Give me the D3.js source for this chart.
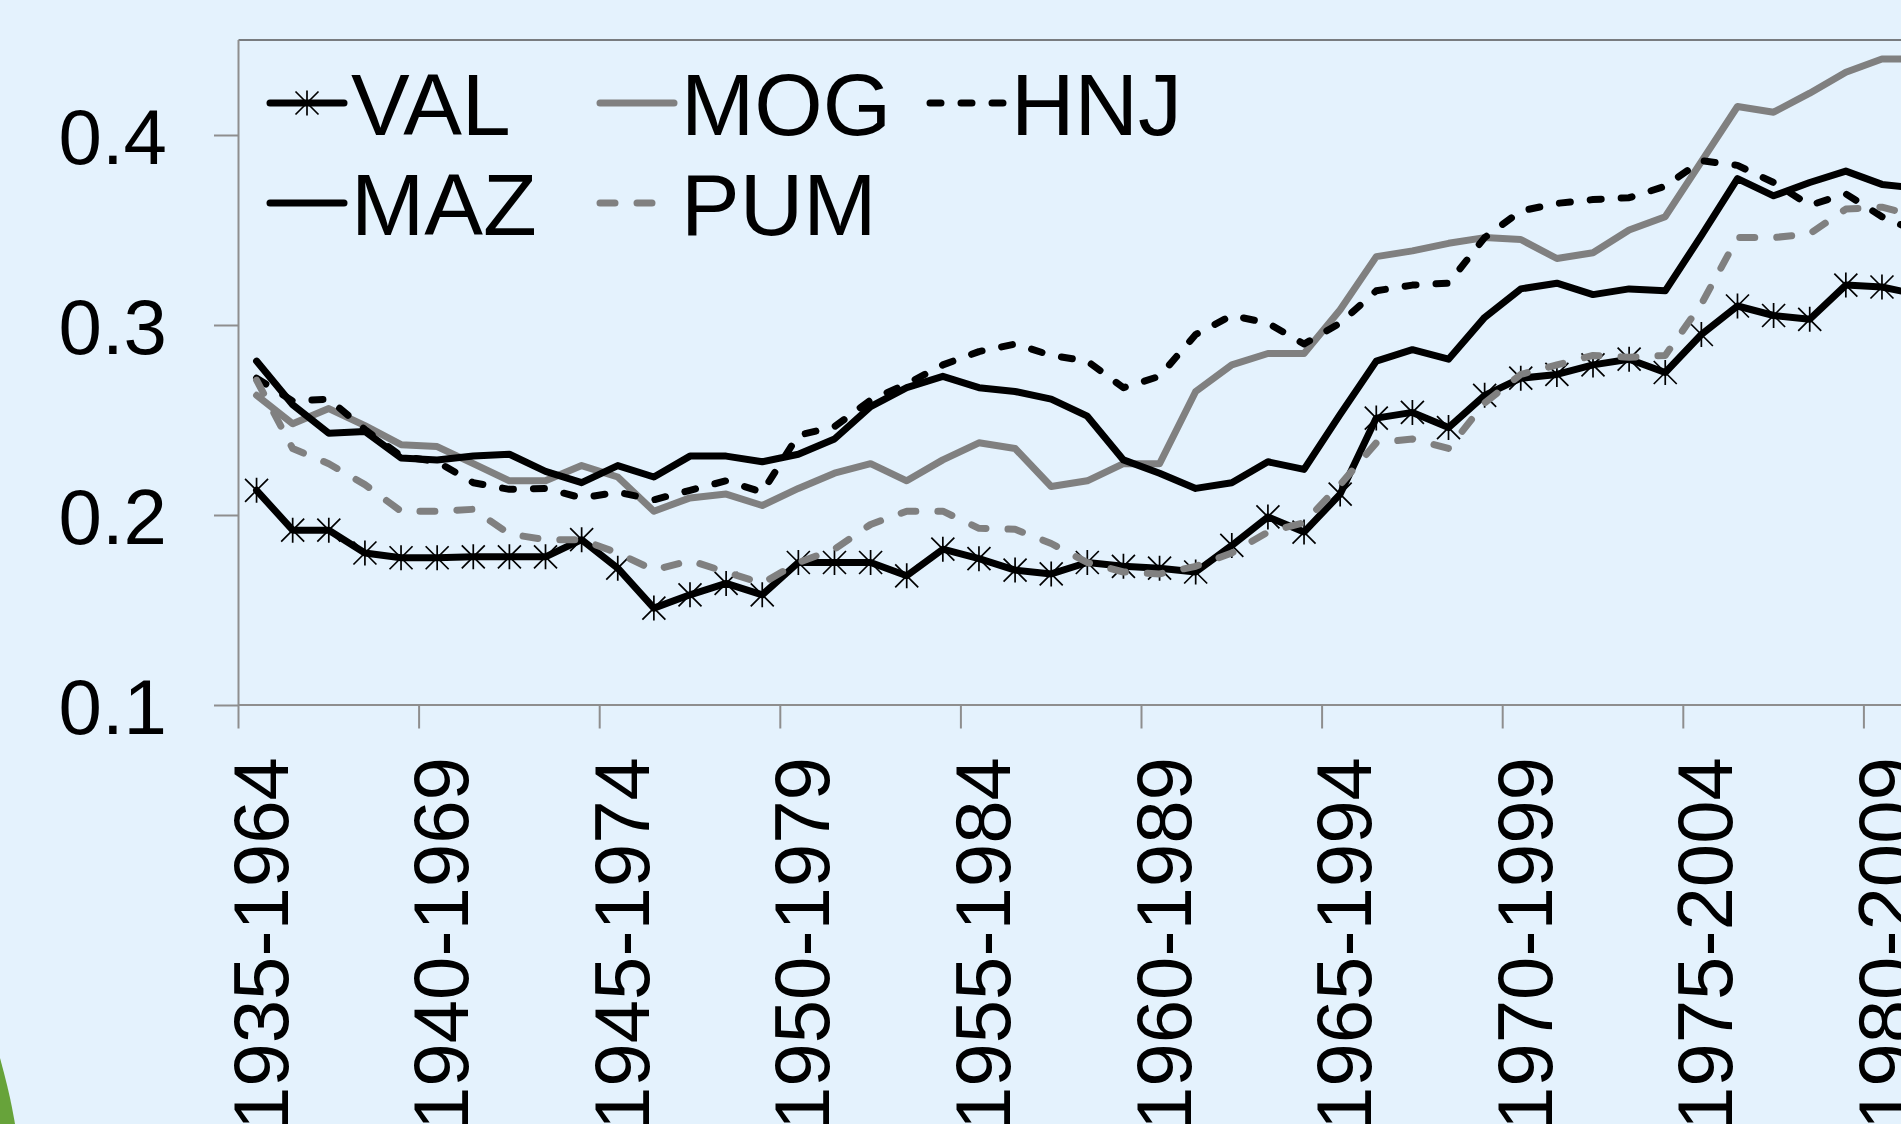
<!DOCTYPE html>
<html><head><meta charset="utf-8">
<script src="https://cdn.jsdelivr.net/npm/d3@7"></script>
<style>
html,body{margin:0;padding:0;background:#E4F2FD;overflow:hidden}
svg{display:block}
text{font-family:"Liberation Sans",Arial,Helvetica,sans-serif;fill:#000}
</style></head><body>
<svg id="chart" width="1901" height="1124"></svg>
<script>
const categories = ["1935-1964","1936-1965","1937-1966","1938-1967","1939-1968","1940-1969","1941-1970","1942-1971","1943-1972","1944-1973",
"1945-1974","1946-1975","1947-1976","1948-1977","1949-1978","1950-1979","1951-1980","1952-1981","1953-1982","1954-1983",
"1955-1984","1956-1985","1957-1986","1958-1987","1959-1988","1960-1989","1961-1990","1962-1991","1963-1992","1964-1993",
"1965-1994","1966-1995","1967-1996","1968-1997","1969-1998","1970-1999","1971-2000","1972-2001","1973-2002","1974-2003",
"1975-2004","1976-2005","1977-2006","1978-2007","1979-2008","1980-2009","1981-2010"];

const VAL = [0.213,0.192,0.192,0.180,0.1775,0.1775,0.178,0.178,0.178,0.187,
0.172,0.151,0.158,0.164,0.158,0.175,0.175,0.175,0.168,0.182,
0.177,0.171,0.169,0.175,0.173,0.172,0.170,0.184,0.199,0.191,
0.211,0.251,0.254,0.246,0.263,0.272,0.274,0.279,0.282,0.275,
0.295,0.310,0.305,0.303,0.321,0.320,0.316];

const MOG = [0.263,0.248,0.256,0.247,0.237,0.236,0.227,0.218,0.218,0.226,
0.220,0.202,0.209,0.211,0.205,0.214,0.222,0.227,0.218,0.229,
0.238,0.235,0.215,0.218,0.227,0.227,0.265,0.279,0.285,0.285,
0.308,0.336,0.339,0.343,0.346,0.345,0.335,0.338,0.350,0.357,
0.386,0.415,0.412,0.422,0.433,0.440,0.440];

const HNJ = [0.272,0.260,0.261,0.245,0.231,0.228,0.217,0.2135,0.214,0.209,
0.212,0.208,0.213,0.218,0.212,0.242,0.2465,0.2605,0.269,0.279,
0.286,0.290,0.284,0.281,0.267,0.273,0.295,0.305,0.301,0.290,
0.301,0.318,0.321,0.322,0.346,0.360,0.364,0.366,0.367,0.373,
0.3865,0.384,0.375,0.363,0.369,0.357,0.349];

const MAZ = [0.281,0.258,0.243,0.244,0.230,0.229,0.231,0.232,0.223,0.217,
0.226,0.220,0.231,0.231,0.228,0.232,0.240,0.257,0.267,0.273,
0.267,0.265,0.261,0.252,0.229,0.222,0.214,0.217,0.228,0.224,
0.253,0.281,0.287,0.282,0.304,0.319,0.322,0.316,0.319,0.318,
0.347,0.377,0.368,0.375,0.381,0.374,0.372];

const PUM = [0.271,0.235,0.227,0.216,0.202,0.202,0.203,0.190,0.187,0.187,
0.180,0.171,0.176,0.170,0.164,0.175,0.182,0.195,0.202,0.202,
0.193,0.1925,0.185,0.175,0.170,0.169,0.173,0.180,0.191,0.196,
0.216,0.238,0.240,0.235,0.259,0.274,0.279,0.284,0.283,0.284,
0.311,0.346,0.346,0.348,0.361,0.362,0.357];

const yTickValues = [0.1, 0.2, 0.3, 0.4];
const yDomain = [0.1, 0.45];
const labelEvery = 5;

const series = [
  {name:"VAL", values:VAL, color:"#000000", dash:null, marker:true},
  {name:"MOG", values:MOG, color:"#808080", dash:null},
  {name:"HNJ", values:HNJ, color:"#000000", dash:"11 20"},
  {name:"MAZ", values:MAZ, color:"#000000", dash:null},
  {name:"PUM", values:PUM, color:"#808080", dash:"15 22"}
];

const svg = d3.select("#chart");
const plotLeft = 238.5, plotTop = 40, plotBottom = 705, step = 36.12;
const axisColor = "#8e8e8e";
const lineW = 7;

const x = d3.scaleBand().domain(categories)
  .range([plotLeft, plotLeft + step * categories.length]).paddingInner(0).paddingOuter(0);
const y = d3.scaleLinear().domain(yDomain).range([plotBottom, plotTop]);
const cx = c => x(c) + x.bandwidth() / 2;

// decorative green shape bottom-left
svg.append("path").attr("d","M0,1058 C6,1080 11,1100 15,1124 L0,1124 Z").attr("fill","#67A33A");

// plot top border
svg.append("line").attr("x1",plotLeft).attr("x2",1901).attr("y1",plotTop).attr("y2",plotTop)
  .attr("stroke","#555").attr("stroke-width",1.6);

// y axis
const yAxis = d3.axisLeft(y).tickValues(yTickValues).tickSize(24.5).tickSizeOuter(0)
  .tickPadding(47).tickFormat(d3.format(".1f"));
const gy = svg.append("g").attr("transform",`translate(${plotLeft},0)`).call(yAxis);
gy.select(".domain").remove();
gy.selectAll(".tick line").attr("stroke",axisColor).attr("stroke-width",2);
gy.selectAll(".tick text").attr("font-size",78).attr("dy","0.36em")
  .attr("font-family",'"Liberation Sans",Arial,sans-serif').attr("fill","#000");
svg.append("line").attr("x1",plotLeft).attr("x2",plotLeft).attr("y1",plotTop).attr("y2",plotBottom)
  .attr("stroke",axisColor).attr("stroke-width",2);

// x axis line
svg.append("line").attr("x1",plotLeft).attr("x2",1901).attr("y1",plotBottom).attr("y2",plotBottom)
  .attr("stroke",axisColor).attr("stroke-width",2);

// x ticks (between categories) and labels
const tickCats = categories.filter((c,i) => i % labelEvery === 0);
svg.append("g").selectAll("line").data(tickCats).join("line")
  .attr("x1",d=>x(d)).attr("x2",d=>x(d)).attr("y1",plotBottom).attr("y2",plotBottom+23.5)
  .attr("stroke",axisColor).attr("stroke-width",2);
svg.append("g").selectAll("text").data(tickCats).join("text")
  .attr("transform",d=>`translate(${cx(d)+3},757) rotate(-90)`)
  .attr("text-anchor","end").attr("dy","0.36em").attr("font-size",78).text(d=>d);

// lines
const line = d3.line().x((d,i)=>cx(categories[i])).y(d=>y(d));
const starPath = "M-11.5,-11.5L11.5,11.5M-11.5,11.5L11.5,-11.5M0,-12.5L0,12.5";
series.forEach(s => {
  svg.append("path").datum(s.values).attr("d",line)
    .attr("fill","none").attr("stroke",s.color).attr("stroke-width",lineW)
    .attr("stroke-linejoin","round").attr("stroke-linecap","round")
    .attr("stroke-dasharray",s.dash);
  if (s.marker) {
    svg.append("g").selectAll("path").data(s.values).join("path")
      .attr("transform",(d,i)=>`translate(${cx(categories[i])},${y(d)})`)
      .attr("d",starPath).attr("stroke","#000").attr("stroke-width",1.7).attr("fill","none");
  }
});

// legend
const legCols = 3, legX0 = 270, legColW = 330, legY0 = 103, legRowH = 100, legLineW = 74;
const lg = svg.append("g");
series.forEach((s,k) => {
  const col = k % legCols, row = Math.floor(k / legCols);
  const lx = legX0 + col*legColW, ly = legY0 + row*legRowH;
  lg.append("line").attr("x1",lx).attr("x2",lx+legLineW).attr("y1",ly).attr("y2",ly)
    .attr("stroke",s.color).attr("stroke-width",lineW).attr("stroke-linecap","round")
    .attr("stroke-dasharray",s.dash);
  if (s.marker) {
    lg.append("path").attr("transform",`translate(${lx+legLineW/2},${ly})`)
      .attr("d",starPath).attr("stroke","#000").attr("stroke-width",1.7).attr("fill","none");
  }
  lg.append("text").attr("x",lx+legLineW+7).attr("y",ly).attr("dy","0.36em")
    .attr("font-size",88).text(s.name);
});
</script>
</body></html>
